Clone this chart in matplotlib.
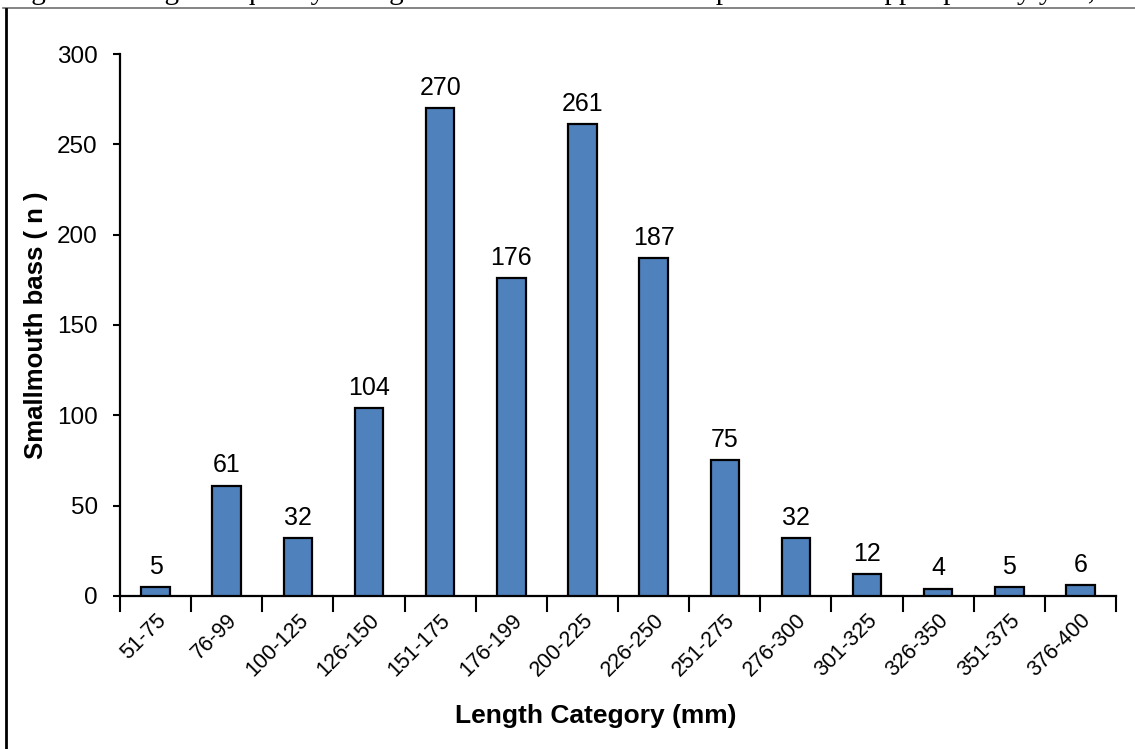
"""
Smallmouth bass length frequency histogram
"""

import matplotlib
matplotlib.use("Agg")
import matplotlib.pyplot as plt
from matplotlib.lines import Line2D


categories = [
    "51-75", "76-99", "100-125", "126-150", "151-175", "176-199", "200-225",
    "226-250", "251-275", "276-300", "301-325", "326-350", "351-375", "376-400",
]
counts = [5, 61, 32, 104, 270, 176, 261, 187, 75, 32, 12, 4, 5, 6]

y_ticks = [0, 50, 100, 150, 200, 250, 300]

caption = "Figure 4. Length frequency histogram of smallmouth bass captured in the upper pool by year, 2"

BAR_COLOR = "#4F81BD"


def main():

    plt.rcParams["font.family"] = ["Liberation Sans", "DejaVu Sans"]

    fig = plt.figure(figsize=(11.35, 7.49), dpi=100)

    ax = fig.add_axes([0.1057, 0.2043, 0.8776, 0.7236])

    x = list(range(len(categories)))

    bars = ax.bar(
        x,
        counts,
        width=0.4,
        color=BAR_COLOR,
        edgecolor="black",
        linewidth=1.6,
        zorder=3,
    )

    # value labels above each bar
    for rect, value in zip(bars, counts):
        ax.annotate(
            str(value),
            (rect.get_x() + rect.get_width() / 2, rect.get_height()),
            xytext=(0, 6),
            textcoords="offset points",
            ha="center",
            va="bottom",
            fontsize=18,
        )

    ax.set_xlim(-0.5, len(categories) - 0.5)
    ax.set_ylim(0, 300)

    ax.set_yticks(y_ticks)
    ax.tick_params(axis="y", labelsize=17.5, length=5, width=1.5, direction="out", pad=11)

    # category labels at the centres, tick marks between categories
    ax.set_xticks(x)
    ax.set_xticklabels(categories, rotation=45, ha="right", rotation_mode="anchor", fontsize=15.5)
    ax.tick_params(axis="x", length=0, pad=10)
    for pos in [i - 0.5 for i in range(len(categories) + 1)]:
        ax.plot([pos, pos], [0, -0.028], transform=ax.get_xaxis_transform(),
                color="black", linewidth=1.5, clip_on=False)

    for side in ["top", "right"]:
        ax.spines[side].set_visible(False)
    for side in ["left", "bottom"]:
        ax.spines[side].set_linewidth(1.6)

    ax.set_ylabel("Smallmouth bass ( n )", fontsize=18.5, fontweight="bold")
    ax.yaxis.set_label_coords(-0.072, 0.5)
    ax.set_xlabel("Length Category (mm)", fontsize=19, fontweight="bold")
    ax.xaxis.set_label_coords(0.478, -0.2)

    # page frame and cut-off caption of the source document
    fig.add_artist(Line2D([0.003, 1.0], [0.9893, 0.9893], transform=fig.transFigure,
                          color="#707070", linewidth=1.2))
    fig.add_artist(Line2D([0.005, 0.005], [0.0, 0.988], transform=fig.transFigure,
                          color="black", linewidth=2.0))
    fig.text(0.006, 1.0 + 1.0 / 749, caption, family="Liberation Serif",
             fontsize=21, va="baseline", ha="left")

    fig.savefig("out.png", dpi=100)
    plt.close(fig)


if __name__ == "__main__":
    main()
